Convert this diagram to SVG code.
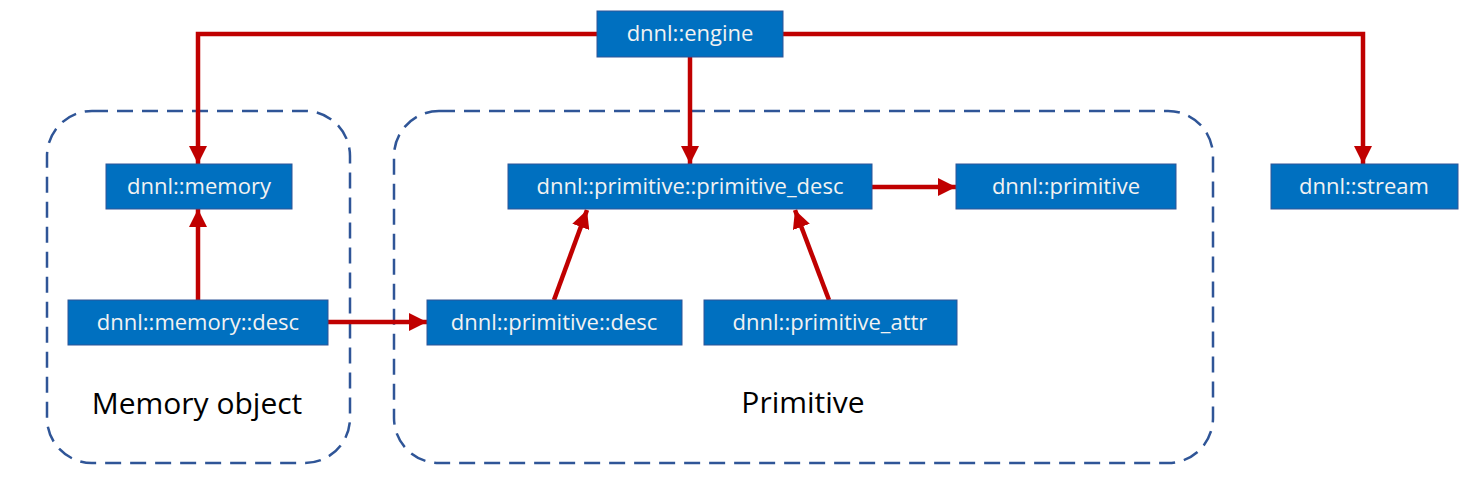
<svg xmlns="http://www.w3.org/2000/svg" width="1483" height="486" viewBox="0 0 1483 486">
<defs>
<style>
.node rect{fill:#0070C0;stroke:#2F5597;stroke-width:1}
.node text{fill:#F2F2F2;font-family:"Open Sans","Noto Sans",sans-serif;font-size:22px;text-anchor:middle}
.grp{fill:none;stroke:#2F5597;stroke-width:2.5;stroke-dasharray:16 9}
.lbl{fill:#000;font-family:"Open Sans","Noto Sans",sans-serif;font-size:30px;text-anchor:middle}
.conn{fill:none;stroke:#C00000;stroke-width:4.5}
</style>
<marker id="ah" viewBox="0 0 10 10" refX="10" refY="5" markerWidth="4" markerHeight="4" orient="auto" markerUnits="strokeWidth">
<path d="M0,0 L10,5 L0,10 z" fill="#C00000"/>
</marker>
</defs>
<rect width="1483" height="486" fill="#fff"/>
<g id="groups">
<rect class="grp" x="47" y="111" width="303" height="352" rx="45" ry="45"/>
<rect class="grp" x="394" y="111" width="819" height="352" rx="45" ry="45"/>
<text class="lbl" x="197" y="414">Memory object</text>
<text class="lbl" x="803" y="413">Primitive</text>
</g>
<g id="connectors">
<path class="conn" d="M597,34 H198 V164" marker-end="url(#ah)"/>
<path class="conn" d="M783,34 H1363 V164" marker-end="url(#ah)"/>
<path class="conn" d="M690,56 V164" marker-end="url(#ah)"/>
<path class="conn" d="M198,300 V209" marker-end="url(#ah)"/>
<path class="conn" d="M328,322 H427" marker-end="url(#ah)"/>
<path class="conn" d="M554,300 L587,210" marker-end="url(#ah)"/>
<path class="conn" d="M829,300 L795,210" marker-end="url(#ah)"/>
<path class="conn" d="M872,187 H956" marker-end="url(#ah)"/>
</g>
<g id="engine" class="node"><rect x="597" y="11" width="186" height="46"/><text x="690" y="41">dnnl::engine</text></g>
<g id="memory" class="node"><rect x="106" y="164" width="186" height="45"/><text x="199" y="194">dnnl::memory</text></g>
<g id="memory_desc" class="node"><rect x="68" y="300" width="260" height="45"/><text x="198" y="330">dnnl::memory::desc</text></g>
<g id="primitive_desc" class="node"><rect x="508" y="164" width="364" height="45"/><text x="690" y="194">dnnl::primitive::primitive_desc</text></g>
<g id="primitive" class="node"><rect x="956" y="164" width="220" height="45"/><text x="1066" y="194">dnnl::primitive</text></g>
<g id="stream" class="node"><rect x="1271" y="164" width="187" height="45"/><text x="1364" y="194">dnnl::stream</text></g>
<g id="prim_desc_desc" class="node"><rect x="427" y="300" width="255" height="45"/><text x="554" y="330">dnnl::primitive::desc</text></g>
<g id="primitive_attr" class="node"><rect x="704" y="300" width="253" height="45"/><text x="830" y="330">dnnl::primitive_attr</text></g>
</svg>
